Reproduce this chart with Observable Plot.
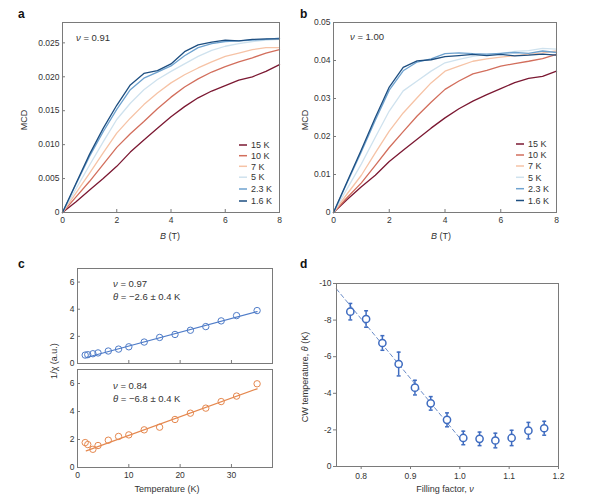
<!DOCTYPE html>
<html><head><meta charset="utf-8">
<script src="https://cdn.jsdelivr.net/npm/d3@7"></script>
<script src="https://cdn.jsdelivr.net/npm/@observablehq/plot@0.6"></script>
<style>
body{margin:0;background:#fff;}
#fig{position:relative;width:600px;height:500px;font-family:"Liberation Sans",Arial,sans-serif;}
#fig > div{position:absolute;}
#fig svg{overflow:visible;}
</style></head><body><div id="fig"></div>
<script>
// ---------- data ----------
const fieldB = [0,0.5,1,1.5,2,2.5,3,3.5,4,4.5,5,5.5,6,6.5,7,7.5,8];
const tempLabels = ["15 K","10 K","7 K","5 K","2.3 K","1.6 K"];
const tempColors = ["#7b1832","#d26e5c","#f6c3a6","#cfe2ee","#6ea2cf","#1d4e80"];

// panel a, ν = 0.91
const mcdA_15K  = [0,.0016,.0033,.0050,.0068,.0089,.0107,.0124,.0141,.0156,.0169,.0179,.0187,.0195,.0200,.0208,.0218];
const mcdA_10K  = [0,.0023,.0046,.0071,.0096,.0116,.0134,.0153,.0170,.0185,.0197,.0207,.0215,.0222,.0228,.0235,.0240];
const mcdA_7K   = [0,.0029,.0058,.0088,.0117,.0139,.0159,.0176,.0191,.0203,.0213,.0222,.0230,.0235,.0240,.0243,.0243];
const mcdA_5K   = [0,.0035,.0070,.0104,.0137,.0161,.0181,.0196,.0208,.0219,.0230,.0239,.0245,.0249,.0252,.0254,.0255];
const mcdA_2p3K = [0,.0042,.0083,.0119,.0152,.0181,.0198,.0207,.0216,.0231,.0243,.0249,.0252,.0253,.0254,.0255,.0257];
const mcdA_1p6K = [0,.0043,.0086,.0124,.0158,.0188,.0205,.0209,.0219,.0237,.0247,.0251,.0254,.0253,.0255,.0256,.0256];

// panel b, ν = 1.00
const mcdB_15K  = [0,.0035,.0068,.0098,.0134,.0164,.0193,.0222,.0249,.0273,.0293,.0310,.0326,.0342,.0353,.0358,.0372];
const mcdB_10K  = [0,.0040,.0078,.0124,.0171,.0213,.0254,.0290,.0324,.0346,.0365,.0374,.0385,.0392,.0398,.0405,.0416];
const mcdB_7K   = [0,.0050,.0098,.0157,.0214,.0262,.0302,.0341,.0372,.0385,.0398,.0404,.0409,.0413,.0416,.0420,.0425];
const mcdB_5K   = [0,.0064,.0128,.0198,.0267,.0320,.0346,.0372,.0394,.0403,.0411,.0416,.0418,.0424,.0426,.0432,.0430];
const mcdB_2p3K = [0,.0080,.0160,.0243,.0322,.0373,.0396,.0404,.0418,.0420,.0418,.0417,.0419,.0421,.0419,.0425,.0421];
const mcdB_1p6K = [0,.0083,.0165,.0250,.0330,.0382,.0399,.0402,.0410,.0413,.0416,.0413,.0416,.0412,.0414,.0417,.0414];

// panel c
const tempC = [1.5,2,3,4,6,8,10,13,16,19,22,25,28,31,35];
const invChi097 = [0.62,0.65,0.72,0.78,0.92,1.06,1.23,1.58,1.92,2.14,2.45,2.72,3.14,3.53,3.90];
const invChi084 = [1.78,1.64,1.30,1.57,1.95,2.22,2.33,2.69,2.88,3.43,3.88,4.24,4.71,5.10,5.98];
const fitT = [1.7,35];
const fit097 = [0.44,3.82];
const fit084 = [1.19,5.62];

// panel d
const fillingFactor = [0.778,0.810,0.843,0.876,0.909,0.941,0.974,1.007,1.040,1.072,1.105,1.139,1.171];
const cwTheta = [-8.46,-8.06,-6.75,-5.60,-4.31,-3.45,-2.55,-1.56,-1.51,-1.42,-1.56,-1.96,-2.09];
const cwErr = [0.45,0.45,0.40,0.65,0.40,0.37,0.38,0.37,0.37,0.40,0.42,0.45,0.38];
const fitNu = [0.75,1.0];
const fitTheta = [-9.7,-1.55];

// ticks
const ticksA = [0,0.005,0.010,0.015,0.020,0.025];
const ticksB = [0,0.01,0.02,0.03,0.04,0.05];
const ticksField = [0,2,4,6,8];
const ticksInv = [0,2,4,6];
const ticksTemp = [0,10,20,30];
const ticksTheta = [0,-2,-4,-6,-8,-10];
const ticksNu = [0.8,0.9,1.0,1.1,1.2];

// ---------- helpers ----------
const FONT = '"Liberation Sans", Arial, sans-serif';
const FRAME = "#7a7a7a";
const TXT = "#333";
const baseStyle = {fontFamily: FONT, fontSize: "8.5px", color: TXT, background: "transparent", overflow: "visible"};
const fig = document.getElementById("fig");
function place(svg, left, top){
  const d = document.createElement("div");
  d.style.left = left + "px"; d.style.top = top + "px";
  d.appendChild(svg); fig.appendChild(d);
}
function longTable(series){
  return tempLabels.flatMap((t,i)=> fieldB.map((b,j)=>({B:b, mcd:series[i][j], T:t})));
}
const tableA = longTable([mcdA_15K,mcdA_10K,mcdA_7K,mcdA_5K,mcdA_2p3K,mcdA_1p6K]);
const tableB = longTable([mcdB_15K,mcdB_10K,mcdB_7K,mcdB_5K,mcdB_2p3K,mcdB_1p6K]);

function mcdPanel(table, yDomain, yTicks, fmt, ml, mr){
  return Plot.plot({
    width: 300, height: 250, marginLeft: ml, marginRight: mr, marginTop: 22, marginBottom: 38,
    style: baseStyle,
    x: {domain: [0,8], axis: null},
    y: {domain: yDomain, axis: null},
    color: {domain: tempLabels, range: tempColors},
    marks: [
      Plot.line(table, {x: "B", y: "mcd", z: "T", stroke: "T", strokeWidth: 1.3}),
      Plot.frame({stroke: FRAME, strokeWidth: 1}),
      Plot.axisX({ticks: ticksField, tickSize: -3, tickPadding: 7, stroke: FRAME, fill: TXT, label: null}),
      Plot.axisY({ticks: yTicks, tickSize: -3, tickPadding: 6, tickFormat: fmt, stroke: FRAME, fill: TXT, label: null})
    ]
  });
}
place(mcdPanel(tableA, [0,0.028], ticksA, d => d === 0 ? "0" : d3.format(".3f")(d), 62, 21), 0, 0);
place(mcdPanel(tableB, [0,0.05], ticksB, d => d === 0 ? "0" : d3.format(".2f")(d), 33, 44), 300, 0);

// panel c
function chiPanel(values, fitVals, color, height, mt, mb, showX){
  const pts = tempC.map((t,i)=>({T:t, v:values[i]}));
  const fit = fitT.map((t,i)=>({T:t, v:fitVals[i]}));
  return Plot.plot({
    width: 300, height, marginLeft: 77, marginRight: 28, marginTop: mt, marginBottom: mb,
    style: baseStyle,
    x: {domain: [0,38], axis: null},
    y: {domain: [0,7], axis: null},
    marks: [
      Plot.line(fit, {x: "T", y: "v", stroke: color, strokeWidth: 1.2}),
      Plot.dot(pts, {x: "T", y: "v", r: 3.2, stroke: color, strokeWidth: 1, fill: "none"}),
      Plot.frame({stroke: FRAME, strokeWidth: 1}),
      Plot.axisX({ticks: ticksTemp, tickSize: -3, tickPadding: 7, stroke: FRAME, fill: TXT, label: null,
                  tickFormat: showX ? (d => String(d)) : (() => "")}),
      Plot.axisY({ticks: ticksInv, tickSize: -3, tickPadding: 6, tickFormat: d => String(d), stroke: FRAME, fill: TXT, label: null})
    ]
  });
}
place(chiPanel(invChi097, fit097, "#4f7cc8", 120, 18, 7, false), 0, 250);
place(chiPanel(invChi084, fit084, "#e5884f", 138, 7, 33, true), 0, 362);

// panel d
const cwData = fillingFactor.map((n,i)=>({nu:n, th:cwTheta[i], lo:cwTheta[i]-cwErr[i], hi:cwTheta[i]+cwErr[i]}));
const fitLine = fitNu.map((n,i)=>({nu:n, th:fitTheta[i]}));
const BLUE = "#3f6cc0";
place(Plot.plot({
  width: 300, height: 250, marginLeft: 36, marginRight: 42, marginTop: 33, marginBottom: 34,
  style: baseStyle,
  x: {domain: [0.75,1.2], axis: null},
  y: {domain: [0,-10], axis: null},
  marks: [
    Plot.line(fitLine, {x: "nu", y: "th", stroke: "#6a8cc8", strokeWidth: 1, strokeDasharray: "4,3"}),
    Plot.ruleX(cwData, {x: "nu", y1: "lo", y2: "hi", stroke: BLUE, strokeWidth: 1.5}),
    Plot.link(cwData, {x1: d => d.nu - 0.004, x2: d => d.nu + 0.004, y1: "lo", y2: "lo", stroke: BLUE, strokeWidth: 1.5}),
    Plot.link(cwData, {x1: d => d.nu - 0.004, x2: d => d.nu + 0.004, y1: "hi", y2: "hi", stroke: BLUE, strokeWidth: 1.5}),
    Plot.dot(cwData, {x: "nu", y: "th", r: 3.6, stroke: BLUE, strokeWidth: 1.5, fill: "white"}),
    Plot.frame({stroke: FRAME, strokeWidth: 1}),
    Plot.axisX({ticks: ticksNu, tickSize: 3, tickPadding: 3, tickFormat: d3.format(".1f"), stroke: FRAME, fill: TXT, label: null}),
    Plot.axisY({ticks: ticksTheta, tickSize: 3, tickPadding: 2, tickFormat: d => String(d), stroke: FRAME, fill: TXT, label: null})
  ]
}), 300, 250);

// ---------- overlay: panel letters, axis titles, annotations, legends ----------
const NS = "http://www.w3.org/2000/svg";
const ov = document.createElementNS(NS, "svg");
ov.setAttribute("width", 600); ov.setAttribute("height", 500);
ov.style.position = "absolute"; ov.style.left = "0"; ov.style.top = "0";
ov.style.fontFamily = FONT; ov.style.pointerEvents = "none";
fig.appendChild(ov);
function txt(x, y, parts, opts = {}){
  const t = document.createElementNS(NS, "text");
  t.setAttribute("x", x); t.setAttribute("y", y);
  t.setAttribute("font-size", opts.size || 9);
  t.setAttribute("fill", opts.fill || TXT);
  t.setAttribute("text-anchor", opts.anchor || "start");
  if (opts.weight) t.setAttribute("font-weight", opts.weight);
  if (opts.rotate) t.setAttribute("transform", `rotate(-90 ${x} ${y})`);
  for (const p of (Array.isArray(parts) ? parts : [parts])) {
    const s = document.createElementNS(NS, "tspan");
    if (typeof p === "string") s.textContent = p;
    else { s.textContent = p.t; if (p.i) s.setAttribute("font-style", "italic"); }
    t.appendChild(s);
  }
  ov.appendChild(t);
}
// panel letters
txt(18, 18, "a", {size: 12, weight: "bold", fill: "#111"});
txt(300, 18, "b", {size: 12, weight: "bold", fill: "#111"});
txt(18, 268, "c", {size: 12, weight: "bold", fill: "#111"});
txt(300, 268, "d", {size: 12, weight: "bold", fill: "#111"});
// axis titles
txt(26.5, 120, "MCD", {anchor: "middle", rotate: true});
txt(308, 120, "MCD", {anchor: "middle", rotate: true});
txt(170, 239, [{t: "B", i: true}, " (T)"], {anchor: "middle"});
txt(441, 239, [{t: "B", i: true}, " (T)"], {anchor: "middle"});
txt(56.5, 361, "1/χ (a.u.)", {anchor: "middle", rotate: true});
txt(167, 492, "Temperature (K)", {anchor: "middle"});
txt(307.5, 377, ["CW temperature, ", {t: "θ", i: true}, " (K)"], {anchor: "middle", rotate: true});
txt(445, 492, ["Filling factor, ", {t: "ν", i: true}], {anchor: "middle"});
// annotations
txt(76, 40.5, [{t: "ν", i: true}, " = 0.91"], {size: 9.5});
txt(350, 40, [{t: "ν", i: true}, " = 1.00"], {size: 9.5});
txt(113, 287, [{t: "ν", i: true}, " = 0.97"], {size: 9.5});
txt(113, 299.5, [{t: "θ", i: true}, " = −2.6 ± 0.4 K"], {size: 9.5});
txt(113, 388.5, [{t: "ν", i: true}, " = 0.84"], {size: 9.5});
txt(113, 401.5, [{t: "θ", i: true}, " = −6.8 ± 0.4 K"], {size: 9.5});
// legends
function legend(x0, x1, xt, ys){
  tempLabels.forEach((lab, i) => {
    const l = document.createElementNS(NS, "line");
    l.setAttribute("x1", x0); l.setAttribute("x2", x1);
    l.setAttribute("y1", ys[i]); l.setAttribute("y2", ys[i]);
    l.setAttribute("stroke", tempColors[i]); l.setAttribute("stroke-width", 1.5);
    ov.appendChild(l);
    txt(xt, ys[i] + 3.2, lab, {size: 9});
  });
}
legend(239, 247, 251, [145, 155.7, 166.3, 177.2, 189, 201]);
legend(516, 524, 528, [144, 155, 166, 177.3, 188.7, 200.5]);
</script></body></html>
